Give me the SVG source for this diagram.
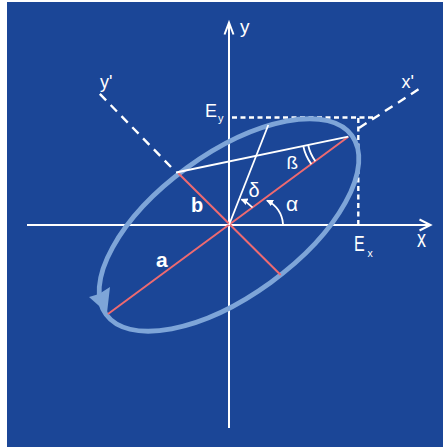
<svg xmlns="http://www.w3.org/2000/svg" width="443" height="447" viewBox="0 0 443 447">
  <style>
    .ax { stroke: #ffffff; stroke-width: 2; fill: none; }
    .wl { stroke: #ffffff; stroke-width: 1.8; fill: none; }
    .rl { stroke: #ee6a70; stroke-width: 2; fill: none; }
    .dsh { stroke: #ffffff; stroke-width: 2.4; fill: none; stroke-dasharray: 5 3.5; }
    .dshl { stroke: #ffffff; stroke-width: 2.4; fill: none; stroke-dasharray: 9 6.5; }
    .el { stroke: #7ea5d8; stroke-width: 4.8; fill: none; }
    text { fill: #ffffff; font-family: "Liberation Sans", Arial, sans-serif; }
    .b { font-weight: bold; }
  </style>
  <defs>
    <marker id="ah" markerUnits="userSpaceOnUse" markerWidth="8" markerHeight="8" refX="6" refY="3.5" orient="auto">
      <path d="M0,0 L7,3.5 L0,7 z" fill="#ffffff"/>
    </marker>
  </defs>
  <rect x="7" y="2" width="436" height="445" fill="#1b4697"/>

  <g id="axes">
    <line class="ax" x1="27" y1="225" x2="430" y2="225"/>
    <polyline class="ax" points="419.5,219.5 430.5,225 419.5,230.5"/>
    <line class="ax" x1="229" y1="428" x2="229" y2="23"/>
    <polyline class="ax" points="224.5,34.5 229,22.5 233.5,34.5"/>
  </g>

  <g id="dashed">
    <line class="dsh" x1="232" y1="117.5" x2="374" y2="117.5"/>
    <line class="dsh" x1="358.3" y1="118" x2="358.3" y2="224"/>
    <line class="dshl" x1="171" y1="167" x2="96" y2="90"/>
    <line class="dshl" x1="359" y1="128" x2="422" y2="87"/>
  </g>

  <g id="ellipse">
    <ellipse class="el" cx="229" cy="225" rx="152" ry="71" transform="rotate(-36 229 225)"/>
    <path d="M89,297 L99,294 L110,287 L107,313 z" fill="#7ea5d8"/>
  </g>

  <g id="connectors">
    <line class="rl" x1="108" y1="314" x2="348.3" y2="136.7"/>
    <line class="rl" x1="178.3" y1="173.3" x2="280.7" y2="275"/>
    <line class="wl" x1="176" y1="172.5" x2="348.3" y2="136.7"/>
    <line class="wl" x1="229" y1="225" x2="268.3" y2="125"/>
    <path class="wl" d="M283,224 A28,28 0 0 0 267,200.5" marker-end="url(#ah)"/>
    <path class="wl" d="M252.5,207.5 A29,29 0 0 0 241.5,199.5" marker-end="url(#ah)"/>
    <path class="wl" d="M308.2,145.3 A41,41 0 0 0 315.3,161.1"/>
    <path class="wl" d="M303.3,146.3 A46,46 0 0 0 311.3,164.1"/>
  </g>

  <g id="labels">
    <text x="240" y="33" font-size="19">y</text>
    <text transform="translate(417,247) scale(1,1.35)" font-size="18">x</text>
    <text x="100" y="88" font-size="18">y'</text>
    <text x="401.5" y="88" font-size="18">x'</text>
    <text x="205" y="117" font-size="18">E</text>
    <text x="218" y="122" font-size="11">y</text>
    <text transform="translate(354,251) scale(1,1.4)" font-size="16">E</text>
    <text transform="translate(367.5,257.3) scale(1,1.1)" font-size="10.5">x</text>
    <text x="248.5" y="196.5" font-size="20">δ</text>
    <text x="286" y="211" font-size="21">α</text>
    <text x="286.5" y="168.5" font-size="19">ß</text>
    <text class="b" x="191" y="212" font-size="20">b</text>
    <text class="b" x="156" y="267" font-size="21">a</text>
  </g>
</svg>
